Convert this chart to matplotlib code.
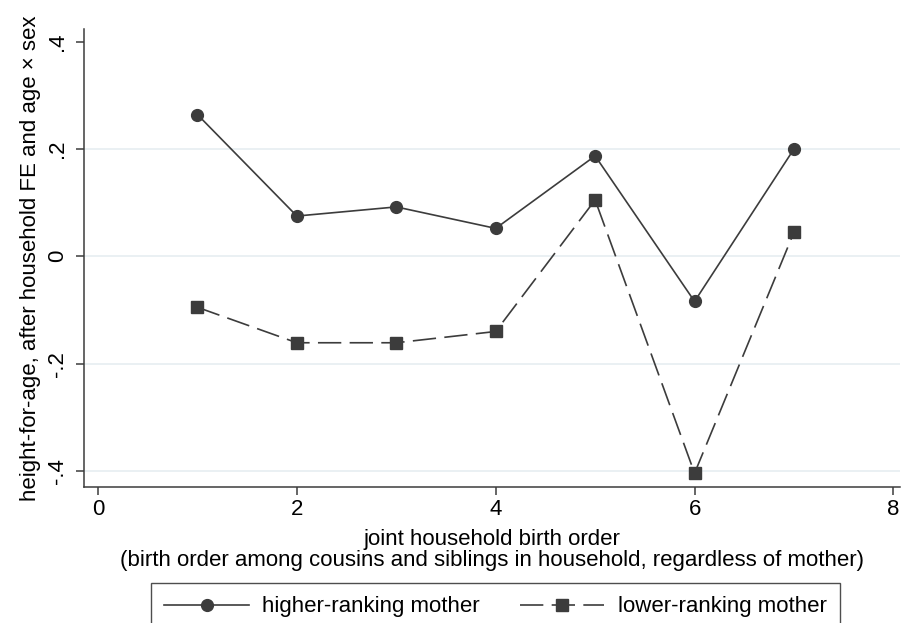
import matplotlib.pyplot as plt
import numpy as np

plt.rcParams['font.family'] = ['Liberation Sans', 'DejaVu Sans']

birth_order = [1, 2, 3, 4, 5, 6, 7]
higher_mother = [0.264, 0.075, 0.092, 0.052, 0.187, -0.084, 0.200]
lower_mother = [-0.095, -0.161, -0.161, -0.140, 0.105, -0.404, 0.045]

yticks = [-0.4, -0.2, 0, 0.2, 0.4]
ytick_labels = ['-.4', '-.2', '0', '.2', '.4']
xticks = [0, 2, 4, 6, 8]

ink = '#3c3c3c'
fs = 16

fig = plt.figure(figsize=(9.04, 6.23), dpi=100)
ax = fig.add_axes([0.093, 0.218, 0.903, 0.736])

for y in [-0.4, -0.2, 0, 0.2]:
    ax.axhline(y, color='#e8eff2', lw=1.3, zorder=0)

ax.plot(birth_order, higher_mother, color=ink, lw=1.2, marker='o', ms=8.5,
        label='higher-ranking mother')
ax.plot(birth_order, lower_mother, color=ink, lw=1.2, marker='s', ms=8.5,
        dashes=(14, 5), label='lower-ranking mother')

ax.set_xlim(-0.14, 8.07)
ax.set_ylim(-0.43, 0.424)
ax.set_xticks(xticks)
ax.set_yticks(yticks)
ax.set_yticklabels(ytick_labels, rotation=90, va='center')
ax.tick_params(labelsize=fs, length=5.8, width=1.1, color=ink)
ax.tick_params(axis='x', pad=3)
ax.tick_params(axis='y', pad=6)

for side in ['top', 'right']:
    ax.spines[side].set_visible(False)
for side in ['left', 'bottom']:
    ax.spines[side].set_color(ink)
    ax.spines[side].set_linewidth(1.1)

ax.set_xlabel('joint household birth order\n(birth order among cousins and siblings in household, regardless of mother)',
              fontsize=fs, labelpad=6, linespacing=1.02)
ax.set_ylabel('height-for-age, after household FE and age × sex', fontsize=fs, labelpad=4)

leg = fig.legend(loc='upper center', bbox_to_anchor=(0.548, 0.0642), ncol=2, fontsize=fs,
                 frameon=True, fancybox=False, edgecolor='#222222', handlelength=3.8,
                 handletextpad=0.6, columnspacing=1.8, borderpad=0.6, borderaxespad=0)
leg.get_frame().set_linewidth(1.0)

fig.savefig('out.png', dpi=100)
